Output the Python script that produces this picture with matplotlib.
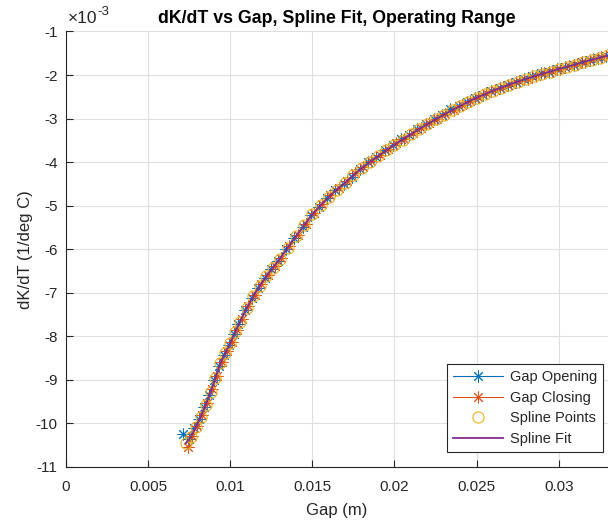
import matplotlib
matplotlib.use("Agg")
import matplotlib.pyplot as plt

plt.rcParams['font.family'] = ['Liberation Sans', 'DejaVu Sans']

# Spline points (gap in m, dK/dT in units of 1e-3 1/deg C)
spline_x = [0.0073, 0.0076, 0.0079, 0.0082, 0.0085, 0.0088, 0.0091, 0.0094, 0.0097,
            0.0100, 0.0103, 0.0106, 0.0110, 0.0114, 0.0118, 0.0122, 0.0126, 0.0130,
            0.0135, 0.0140, 0.0145, 0.0150, 0.0155, 0.0160, 0.0165, 0.0170, 0.0175,
            0.0180, 0.0185, 0.0190, 0.0195, 0.0200, 0.0205, 0.0210, 0.0215, 0.0220,
            0.0225, 0.0230, 0.0235, 0.0240, 0.0245, 0.0250, 0.0255, 0.0260, 0.0265,
            0.0270, 0.0275, 0.0280, 0.0285, 0.0290, 0.0295, 0.0300, 0.0305, 0.0310,
            0.0315, 0.0320, 0.0325, 0.0330, 0.0335]
spline_y = [-10.45, -10.32, -10.08, -9.85, -9.58, -9.28, -8.95, -8.62, -8.38,
            -8.16, -7.90, -7.66, -7.36, -7.08, -6.84, -6.62, -6.42, -6.23,
            -5.96, -5.70, -5.45, -5.20, -4.99, -4.80, -4.63, -4.47, -4.30,
            -4.14, -4.00, -3.87, -3.73, -3.60, -3.48, -3.36, -3.24, -3.13,
            -3.02, -2.91, -2.81, -2.71, -2.61, -2.52, -2.44, -2.36, -2.29,
            -2.22, -2.15, -2.09, -2.03, -1.97, -1.92, -1.86, -1.81, -1.76,
            -1.70, -1.65, -1.60, -1.55, -1.51]

# Gap opening measurements
open_x = [0.0071, 0.0075, 0.0078, 0.0081, 0.0084, 0.0087, 0.0090, 0.0093, 0.0096,
          0.0099, 0.0102, 0.0105, 0.0109, 0.0113, 0.0117, 0.0121, 0.0125, 0.0129,
          0.0134, 0.0139, 0.0144, 0.0149, 0.0154, 0.0159, 0.0164, 0.0169, 0.0174,
          0.0179, 0.0184, 0.0189, 0.0194, 0.0199, 0.0204, 0.0209, 0.0214, 0.0219,
          0.0224, 0.0229, 0.0234, 0.0239, 0.0244, 0.0249, 0.0254, 0.0259, 0.0264,
          0.0269, 0.0274, 0.0279, 0.0284, 0.0289, 0.0294, 0.0299, 0.0304, 0.0309,
          0.0314, 0.0319, 0.0324, 0.0329, 0.0334]
open_y = [-10.25, -10.35, -10.10, -9.90, -9.63, -9.35, -9.01, -8.67, -8.42,
          -8.21, -7.95, -7.71, -7.40, -7.12, -6.88, -6.66, -6.45, -6.26,
          -5.99, -5.74, -5.49, -5.22, -5.02, -4.82, -4.64, -4.50, -4.33,
          -4.15, -4.00, -3.88, -3.72, -3.60, -3.46, -3.38, -3.25, -3.13,
          -3.02, -2.92, -2.79, -2.72, -2.62, -2.53, -2.45, -2.37, -2.29,
          -2.22, -2.16, -2.10, -2.03, -1.96, -1.93, -1.87, -1.81, -1.76,
          -1.71, -1.66, -1.61, -1.56, -1.51]

# Gap closing measurements
close_x = [0.0074, 0.0077, 0.0080, 0.0083, 0.0086, 0.0089, 0.0092, 0.0095, 0.0098,
           0.0101, 0.0104, 0.0107, 0.0111, 0.0115, 0.0119, 0.0123, 0.0127, 0.0131,
           0.0136, 0.0141, 0.0146, 0.0151, 0.0156, 0.0161, 0.0166, 0.0171, 0.0176,
           0.0181, 0.0186, 0.0191, 0.0196, 0.0201, 0.0206, 0.0211, 0.0216, 0.0221,
           0.0226, 0.0231, 0.0236, 0.0241, 0.0246, 0.0251, 0.0256, 0.0261, 0.0266,
           0.0271, 0.0276, 0.0281, 0.0286, 0.0291, 0.0296, 0.0301, 0.0306, 0.0311,
           0.0316, 0.0321, 0.0326, 0.0331, 0.0336]
close_y = [-10.55, -10.28, -10.05, -9.80, -9.52, -9.22, -8.90, -8.58, -8.33,
           -8.12, -7.85, -7.60, -7.31, -7.04, -6.80, -6.58, -6.38, -6.19,
           -5.92, -5.67, -5.41, -5.16, -4.96, -4.76, -4.60, -4.43, -4.26,
           -4.11, -3.97, -3.84, -3.70, -3.57, -3.46, -3.33, -3.22, -3.11,
           -3.00, -2.89, -2.80, -2.69, -2.60, -2.51, -2.42, -2.35, -2.28,
           -2.21, -2.14, -2.08, -2.02, -1.96, -1.91, -1.85, -1.80, -1.75,
           -1.69, -1.64, -1.59, -1.54, -1.50]

x_ticks = [0, 0.005, 0.01, 0.015, 0.02, 0.025, 0.03]
x_tick_labels = ['0', '0.005', '0.01', '0.015', '0.02', '0.025', '0.03']
y_ticks = [-1, -2, -3, -4, -5, -6, -7, -8, -9, -10, -11]
y_tick_labels = ['-1', '-2', '-3', '-4', '-5', '-6', '-7', '-8', '-9', '-10', '-11']

c_blue = '#0072BD'
c_orange = '#D95319'
c_yellow = '#EDB120'
c_purple = '#7E2F8E'
dark = '#262626'

fig = plt.figure(figsize=(6.08, 5.25), dpi=100)
ax = fig.add_axes([66/608, 58/525, 542/608, 435.5/525])

asterisk = (8, 2, 0)
ax.plot(open_x, open_y, color=c_blue, lw=0.8, marker=asterisk, ms=8.5, mew=0.7,
        label='Gap Opening')
ax.plot(close_x, close_y, color=c_orange, lw=0.8, marker=asterisk, ms=8.5, mew=0.7,
        label='Gap Closing')
ax.plot(spline_x, spline_y, ls='none', marker='o', ms=8, mfc='none', mec=c_yellow,
        mew=0.8, label='Spline Points')
ax.plot(spline_x, spline_y, color=c_purple, lw=1.3, label='Spline Fit')

ax.set_xlim(0, 0.033)
ax.set_ylim(-11, -1)
ax.set_xticks(x_ticks)
ax.set_xticklabels(x_tick_labels)
ax.set_yticks(y_ticks)
ax.set_yticklabels(y_tick_labels)

ax.grid(True, color='#DFDFDF', lw=0.8)
ax.set_axisbelow(True)
for s in ['top', 'right']:
    ax.spines[s].set_visible(False)
for s in ['left', 'bottom']:
    ax.spines[s].set_color(dark)
    ax.spines[s].set_linewidth(0.8)
ax.tick_params(direction='in', length=5, width=0.8, colors=dark, labelsize=11)
ax.tick_params(axis='x', pad=9.5)
ax.tick_params(axis='y', pad=6)

ax.set_xlabel('Gap (m)', fontsize=12, color=dark, labelpad=6)
ax.set_ylabel('dK/dT (1/deg C)', fontsize=12, color=dark, labelpad=2)
ax.set_title('dK/dT vs Gap, Spline Fit, Operating Range', fontsize=12.8,
             fontweight='bold', color='black', pad=6)

# exponent label
t1 = ax.text(0.003, 1.012, '\u00d710', transform=ax.transAxes, fontsize=12.5,
             color=dark, ha='left', va='bottom')
ax.annotate('-3', xy=(1.0, 0.55), xycoords=t1, fontsize=9.5, color=dark,
            ha='left', va='bottom')

leg = ax.legend(loc='lower right', bbox_to_anchor=(603/608, 73.3/525),
                bbox_transform=fig.transFigure, borderaxespad=0,
                fontsize=10.5, handlelength=3.4, framealpha=1, fancybox=False,
                edgecolor=dark, borderpad=0.4, labelspacing=0.45,
                handletextpad=0.5)
leg.get_frame().set_linewidth(0.8)
for t in leg.get_texts():
    t.set_color(dark)

fig.savefig('out.png', dpi=100)
